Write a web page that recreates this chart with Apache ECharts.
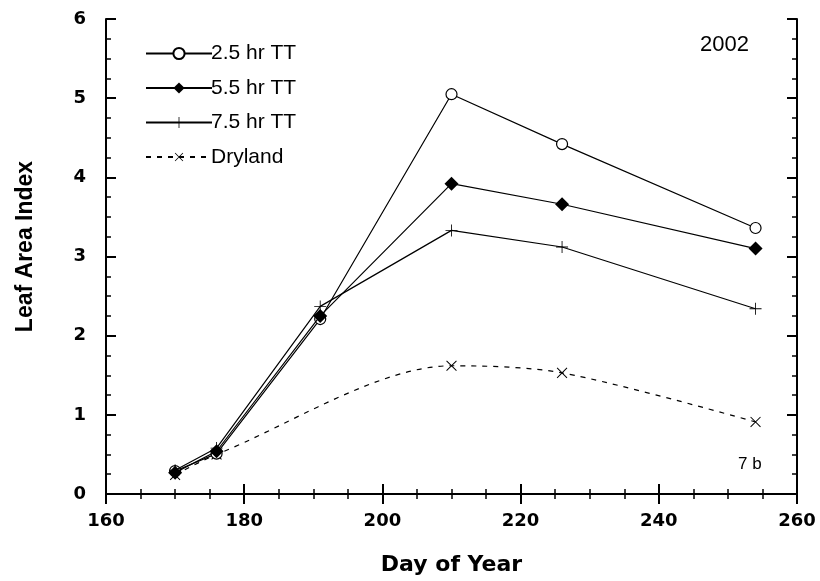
<!DOCTYPE html>
<html><head><meta charset="utf-8">
<script src="https://cdn.jsdelivr.net/npm/echarts@6/dist/echarts.min.js"></script>
<style>html,body{margin:0;padding:0;background:#fff}#c{width:820px;height:581px}</style>
</head><body><div id="c"></div>
<script>
var days = [170, 176, 191, 210, 226, 254];
var daysDry = [170, 176, 210, 226, 254];
var tt25 = [0.29, 0.51, 2.21, 5.05, 4.42, 3.36];
var tt55 = [0.27, 0.54, 2.25, 3.92, 3.66, 3.10];
var tt75 = [0.30, 0.58, 2.37, 3.33, 3.12, 2.34];
var dryland = [0.24, 0.50, 1.62, 1.53, 0.91];
var seriesNames = ['2.5 hr TT', '5.5 hr TT', '7.5 hr TT', 'Dryland'];

function pairs(xs, ys){ return xs.map(function(x,i){ return [x, ys[i]]; }); }
var plus = 'path://M-0.07,-1H0.07V1H-0.07Z M-1,-0.07H1V0.07H-1Z';

var chart = echarts.init(document.getElementById('c'));
var F = 'Liberation Sans, Arial, sans-serif';
var FB = 'DejaVu Sans, sans-serif';
var axisCommon = {
  axisLine: {lineStyle: {color: '#000', width: 2}},
  axisTick: {inside: true, length: 10, lineStyle: {color: '#000', width: 2}},
  minorTick: {show: true, splitNumber: 4, length: 5, lineStyle: {color: '#000', width: 1.5}},
  splitLine: {show: false}
};
chart.setOption({
  animation: false,
  backgroundColor: '#fff',
  grid: {left: 106, right: 23, top: 19, bottom: 86},
  legend: {
    orient: 'vertical', left: 140, top: 38, itemWidth: 66, itemHeight: 14, itemGap: 13.5,
    data: seriesNames,
    textStyle: {fontFamily: F, fontSize: 21, color: '#000', padding: [0, 0, 0, -6]}
  },
  xAxis: [
    Object.assign({type: 'value', min: 160, max: 260, interval: 20, position: 'bottom',
      name: 'Day of Year', nameLocation: 'middle', nameGap: 60,
      nameTextStyle: {fontFamily: FB, fontWeight: 'bold', fontSize: 22, color: '#000'},
      axisLabel: {fontFamily: FB, fontWeight: 'bold', fontSize: 18, color: '#000', margin: 18}}, axisCommon),
    Object.assign({type: 'value', min: 160, max: 260, interval: 20, position: 'top',
      axisLabel: {show: false}}, axisCommon)
  ],
  yAxis: [
    Object.assign({type: 'value', min: 0, max: 6, interval: 1, position: 'left',
      name: 'Leaf Area Index', nameLocation: 'middle', nameGap: 69,
      nameTextStyle: {fontFamily: F, fontWeight: 'bold', fontSize: 23, color: '#000', padding: [0, 0, 0, 20]},
      axisLabel: {fontFamily: FB, fontWeight: 'bold', fontSize: 18, color: '#000', margin: 20}}, axisCommon),
    Object.assign({type: 'value', min: 0, max: 6, interval: 1, position: 'right',
      axisLabel: {show: false}}, axisCommon)
  ],
  graphic: [
    {type: 'text', left: 700, top: 34, style: {text: '2002', font: '22px ' + F, fill: '#000'}},
    {type: 'text', left: 738, top: 456, style: {text: '7 b', font: '17px ' + F, fill: '#000'}}
  ],
  series: [
    {name: seriesNames[0], type: 'line', data: pairs(days, tt25), symbol: 'circle', symbolSize: 11,
      itemStyle: {color: '#fff', borderColor: '#000', borderWidth: 1.2},
      lineStyle: {color: '#000', width: 1.2}, z: 3},
    {name: seriesNames[1], type: 'line', data: pairs(days, tt55), symbol: 'diamond', symbolSize: 14,
      itemStyle: {color: '#000', borderColor: '#000', borderWidth: 0},
      lineStyle: {color: '#000', width: 1.2}, z: 4},
    {name: seriesNames[2], type: 'line', data: pairs(days, tt75), symbol: plus, symbolSize: 12,
      itemStyle: {color: '#000', borderWidth: 0},
      lineStyle: {color: '#000', width: 1.2}, z: 5},
    {name: seriesNames[3], type: 'line', data: pairs(daysDry, dryland), symbol: plus, symbolSize: 14, symbolRotate: 45,
      smooth: 0.3,
      itemStyle: {color: '#000', borderWidth: 0},
      lineStyle: {color: '#000', width: 1.2, type: [5, 6]}, z: 2}
  ]
});
</script></body></html>
